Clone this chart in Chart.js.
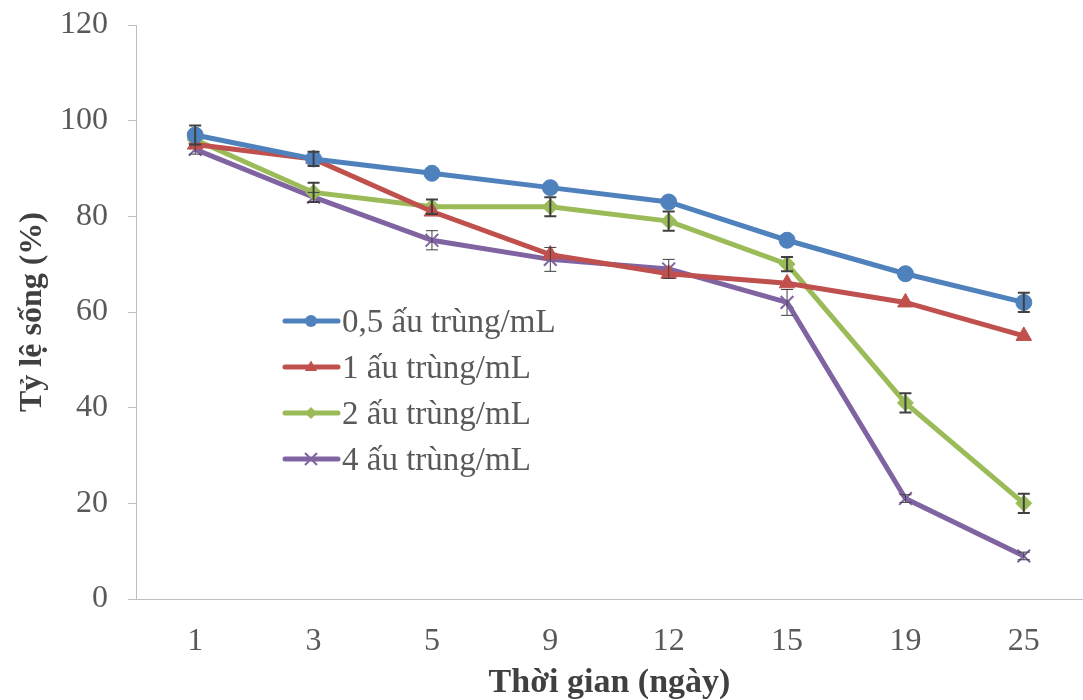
<!DOCTYPE html>
<html>
<head>
<meta charset="utf-8">
<script src="https://cdn.jsdelivr.net/npm/chart.js@4.4.1/dist/chart.umd.min.js"></script>
<style>
  html, body { margin: 0; padding: 0; background: #ffffff; }
  #wrap { position: relative; width: 1083px; height: 700px; }
</style>
</head>
<body>
<div id="wrap"><canvas id="c" width="1083" height="700"></canvas></div>
<script>
const categories = ['1', '3', '5', '9', '12', '15', '19', '25'];
const yTicks = [0, 20, 40, 60, 80, 100, 120];

const seriesNames = ['0,5 ấu trùng/mL', '1 ấu trùng/mL', '2 ấu trùng/mL', '4 ấu trùng/mL'];
const s05 = [97, 92, 89, 86, 83, 75, 68, 62];
const s1  = [95, 92, 81, 72, 68, 66, 62, 55];
const s2  = [96, 85, 82, 82, 79, 70, 41, 20];
const s4  = [94, 84, 75, 71, 69, 62, 21, 9];

const e05 = [2, 1.5, 0, 0, 0, 0, 0, 2];
const e1  = [0, 0, 0, 0, 0, 0, 0, 0];
const e2  = [0, 2, 1.5, 2, 2, 1.5, 2, 2];
const e4  = [1, 1, 2, 2.5, 2, 2.7, 0.8, 0.8];

const colors = ['#4f81bd', '#c0504d', '#9bbb59', '#8064a2'];
const styles = ['circle', 'triangle', 'rectRot', 'crossRot'];
const radii = [8, 9, 8, 9];
const errs = [e05, e1, e2, e4];
const vals = [s05, s1, s2, s4];

const SERIF = '"Liberation Serif", "Times New Roman", serif';

const datasets = vals.map((v, i) => ({
  label: seriesNames[i],
  data: v,
  borderColor: colors[i],
  backgroundColor: colors[i],
  pointBackgroundColor: colors[i],
  pointBorderColor: colors[i],
  pointStyle: styles[i],
  pointRadius: radii[i],
  pointBorderWidth: i === 3 ? 2 : 1,
  borderWidth: 5,
  tension: 0,
  clip: false,
  errors: errs[i]
}));

const errorBars = {
  id: 'errorBars',
  afterDatasetsDraw(chart) {
    const ctx = chart.ctx;
    const ys = chart.scales.y;
    chart.data.datasets.forEach((ds, di) => {
      const meta = chart.getDatasetMeta(di);
      if (meta.hidden) return;
      ctx.save();
      ctx.strokeStyle = '#404040';
      ctx.lineWidth = di === 3 ? 1 : 2;
      meta.data.forEach((pt, i) => {
        const e = ds.errors[i];
        if (!e) return;
        const v = ds.data[i];
        const yt = ys.getPixelForValue(v + e);
        const yb = ys.getPixelForValue(v - e);
        const x = pt.x;
        ctx.beginPath();
        ctx.moveTo(x, yt); ctx.lineTo(x, yb);
        ctx.moveTo(x - 6, yt); ctx.lineTo(x + 6, yt);
        ctx.moveTo(x - 6, yb); ctx.lineTo(x + 6, yb);
        ctx.stroke();
      });
      ctx.restore();
    });
  }
};

function drawMarker(ctx, style, x, y, r, color) {
  ctx.save();
  ctx.fillStyle = color;
  ctx.strokeStyle = color;
  ctx.beginPath();
  if (style === 'circle') {
    ctx.arc(x, y, r, 0, Math.PI * 2);
    ctx.fill();
  } else if (style === 'triangle') {
    ctx.moveTo(x, y - r * 1.1);
    ctx.lineTo(x + r, y + r * 0.65);
    ctx.lineTo(x - r, y + r * 0.65);
    ctx.closePath();
    ctx.fill();
  } else if (style === 'rectRot') {
    ctx.moveTo(x, y - r); ctx.lineTo(x + r, y); ctx.lineTo(x, y + r); ctx.lineTo(x - r, y);
    ctx.closePath();
    ctx.fill();
  } else {
    ctx.lineWidth = 2;
    ctx.moveTo(x - r, y - r); ctx.lineTo(x + r, y + r);
    ctx.moveTo(x + r, y - r); ctx.lineTo(x - r, y + r);
    ctx.stroke();
  }
  ctx.restore();
}

const customLegend = {
  id: 'customLegend',
  afterDraw(chart) {
    const ctx = chart.ctx;
    const rowY = [321, 367, 413, 459];
    chart.data.datasets.forEach((ds, i) => {
      const y = rowY[i];
      ctx.save();
      ctx.strokeStyle = ds.borderColor;
      ctx.lineWidth = 5;
      ctx.lineCap = 'round';
      ctx.beginPath();
      ctx.moveTo(285, y); ctx.lineTo(338, y);
      ctx.stroke();
      ctx.restore();
      drawMarker(ctx, ds.pointStyle, 311, y, 6, ds.borderColor);
      ctx.save();
      ctx.fillStyle = '#595959';
      ctx.font = '33px ' + SERIF;
      ctx.textBaseline = 'alphabetic';
      ctx.textAlign = 'left';
      ctx.fillText(ds.label, 342, y + 11);
      ctx.restore();
    });
  }
};

new Chart(document.getElementById('c'), {
  type: 'line',
  data: { labels: categories, datasets },
  options: {
    responsive: false,
    animation: false,
    layout: { autoPadding: false, padding: { top: 25, right: 0, left: 0, bottom: 0 } },
    plugins: { legend: { display: false }, tooltip: { enabled: false } },
    scales: {
      x: {
        offset: true,
        grid: { display: false, drawTicks: false },
        border: { display: true, color: '#bfbfbf', width: 1 },
        ticks: { color: '#595959', font: { family: SERIF, size: 32 }, padding: 23 },
        title: { display: true, text: 'Thời gian (ngày)', color: '#404040',
                 font: { family: SERIF, size: 34, weight: 'bold' }, padding: { top: 0, bottom: -4 } },
        afterFit(s) { s.height = 101; s.paddingLeft = 0; s.paddingRight = 0; }
      },
      y: {
        min: 0, max: 120,
        afterBuildTicks(s) { s.ticks = yTicks.map(v => ({ value: v })); },
        grid: { display: true, drawOnChartArea: false, drawTicks: true, tickLength: 8, color: '#bfbfbf' },
        border: { display: true, color: '#bfbfbf', width: 1 },
        ticks: { color: '#595959', font: { family: SERIF, size: 32 }, padding: 20 },
        title: { display: true, text: 'Tỷ lệ sống (%)', color: '#404040',
                 font: { family: SERIF, size: 32, weight: 'bold' }, padding: { top: 14, bottom: 0 } },
        afterFit(s) { s.width = 136; s.paddingTop = 0; s.paddingBottom = 0; }
      }
    }
  },
  plugins: [errorBars, customLegend]
});
</script>
</body>
</html>
